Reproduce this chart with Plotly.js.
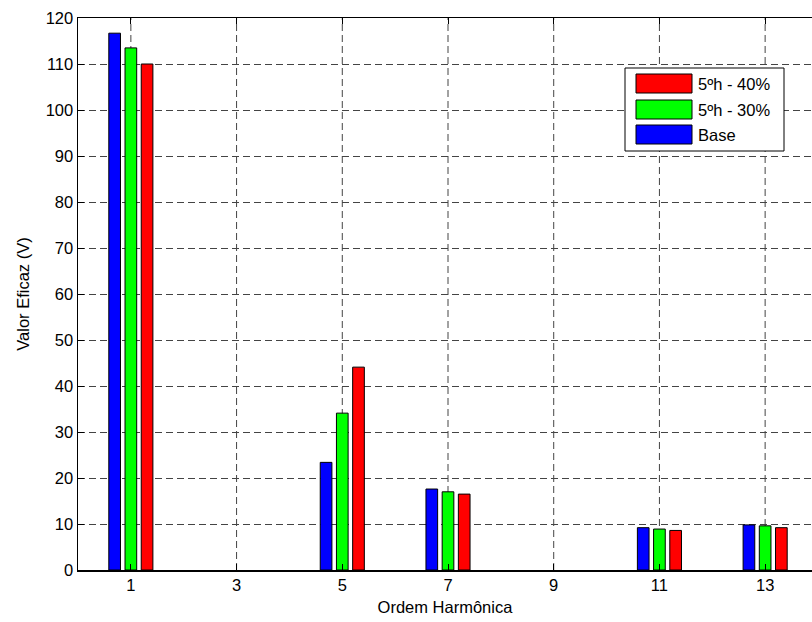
<!DOCTYPE html>
<html>
<head>
<meta charset="utf-8">
<script src="https://cdn.plot.ly/plotly-3.0.1.min.js"></script>
<style>html,body{margin:0;padding:0;background:#fff;}#chart{width:812px;height:622px;}</style>
</head>
<body>
<div id="chart"></div>
<script>
// Harmonic orders shown
var harmonics = [1, 5, 7, 11, 13];
// RMS values (V)
var baseValues = [116.7, 23.4, 17.6, 9.2, 9.8];
var h30Values = [113.5, 34.1, 17.0, 8.9, 9.6];
var h40Values = [110.0, 44.1, 16.5, 8.6, 9.2];
var seriesNames = ['Base', '5ºh - 30%', '5ºh - 40%'];
var seriesColors = ['#0000ff', '#00ff00', '#ff0000'];
var xTicks = [1, 3, 5, 7, 9, 11, 13];
var yTicks = [0, 10, 20, 30, 40, 50, 60, 70, 80, 90, 100, 110, 120];

var allValues = [baseValues, h30Values, h40Values];
var traces = allValues.map(function (vals, i) {
  return {
    type: 'bar',
    x: harmonics,
    y: vals,
    name: seriesNames[i],
    marker: { color: seriesColors[i], line: { color: '#000', width: 1 } },
    hoverinfo: 'none'
  };
});

var font = { family: 'Liberation Sans, Arial, sans-serif', size: 16.5, color: '#000' };
var gridStyle = { color: '#444', width: 1, dash: '7px,4px' };

// vertical grid lines at the x ticks
var shapes = xTicks.map(function (t) {
  return { type: 'line', xref: 'x', yref: 'paper', x0: t, x1: t, y0: 0, y1: 1,
           line: gridStyle, layer: 'below' };
});

// custom legend (paper coordinates)
var L = 78, W = 734, B = 570, H = 552;
function px(x) { return (x - L) / W; }
function py(y) { return (B - y) / H; }
shapes.push({ type: 'rect', xref: 'paper', yref: 'paper',
  x0: px(625), x1: px(784), y0: py(151), y1: py(68),
  line: { color: '#000', width: 1 }, fillcolor: '#fff', layer: 'above' });
var annotations = [];
var legendOrder = [2, 1, 0];
var rowTops = [74, 100, 125];
legendOrder.forEach(function (si, r) {
  shapes.push({
    type: 'rect', xref: 'paper', yref: 'paper',
    x0: px(636), x1: px(692), y0: py(rowTops[r] + 19), y1: py(rowTops[r]),
    line: { color: '#000', width: 1 }, fillcolor: seriesColors[si], layer: 'above'
  });
  annotations.push({
    xref: 'paper', yref: 'paper', x: px(696), y: py(rowTops[r] + 10),
    xanchor: 'left', yanchor: 'middle', showarrow: false,
    text: seriesNames[si], font: font
  });
});

var layout = {
  width: 812, height: 622,
  margin: { l: 78, r: 0, t: 18, b: 52 },
  paper_bgcolor: '#fff', plot_bgcolor: '#fff',
  font: font,
  showlegend: false,
  barmode: 'group',
  bargap: 0.54,
  bargroupgap: 0.28,
  xaxis: {
    range: [0, 14 * 734 / 740],
    tickmode: 'array', tickvals: xTicks, ticktext: xTicks.map(String),
    ticks: 'inside', ticklen: 6, tickcolor: '#000',
    showline: true, linecolor: '#000', linewidth: 1.5, mirror: 'ticks',
    showgrid: false, zeroline: false,
    tickfont: font,
    title: { text: 'Ordem Harmônica', font: font, standoff: 8 }
  },
  yaxis: {
    range: [0, 120],
    tickmode: 'array', tickvals: yTicks, ticktext: yTicks.map(String),
    ticks: 'inside', ticklen: 6, tickcolor: '#000',
    showline: true, linecolor: '#000', linewidth: 1.5, mirror: false,
    showgrid: true, gridcolor: '#444', griddash: '7px,4px', gridwidth: 1,
    zeroline: false,
    tickfont: font,
    title: { text: 'Valor Eficaz (V)', font: font, standoff: 12 }
  },
  shapes: shapes,
  annotations: annotations
};

Plotly.newPlot('chart', traces, layout, { displayModeBar: false, staticPlot: true });
</script>
</body>
</html>
